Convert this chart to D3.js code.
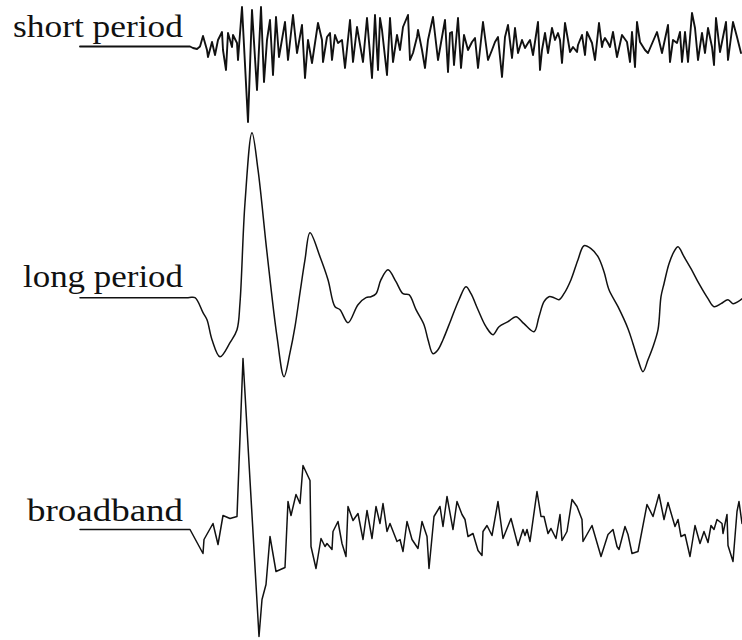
<!DOCTYPE html>
<html>
<head>
<meta charset="utf-8">
<script src="https://cdn.jsdelivr.net/npm/d3@7"></script>
<style>
  html, body { margin: 0; padding: 0; background: #fff; }
  svg { display: block; }
  .label { font-family: "Liberation Serif", "Times New Roman", serif; font-size: 32px; fill: #111; }
  .trace { fill: none; stroke: #111; stroke-linejoin: round; stroke-linecap: round; }
</style>
</head>
<body>
<svg id="chart" width="742" height="640"></svg>
<script>
// Instrument responses to the same earthquake: [time, amplitude]
// The lead-in sample at t = -110 is the quiet pre-event trace under each label.
const shortPeriod = [
  [-110,0],[0,0],[3,-1.5],[7,-2.5],[10,0],[13,10.5],[17,-3.5],[18,-10.5],[22,4.5],[25,-8.5],
  [28,6.5],[32,14.5],[33,-3.5],[36,-23.5],[38,13.5],[42,-0.5],[43,11.5],[47,3.5],[48,-13.5],
  [52,39.5],[58,-75.5],[62,36.5],[67,-43.5],[71,39.5],[74,-35.5],[77,6.5],[80,26.5],[83,-28.5],
  [86,29.5],[89,-10.5],[95,24.5],[98,-13.5],[103,31.5],[107,-6.5],[112,21.5],[115,-31.5],
  [118,6.5],[122,-16.5],[125,3.5],[128,23.5],[132,6.5],[133,-15.5],[137,9.5],[140,13.5],
  [142,-13.5],[145,11.5],[148,3.5],[152,6.5],[155,-21.5],[160,26.5],[163,-15.5],[167,19.5],
  [173,-15.5],[177,28.5],[182,-31.5],[185,31.5],[188,-23.5],[190,28.5],[192,16.5],[197,-28.5],
  [200,28.5],[203,-15.5],[207,11.5],[210,-3.5],[213,19.5],[218,31.5],[220,-13.5],[223,-6.5],
  [227,9.5],[228,16.5],[232,-3.5],[235,-21.5],[238,6.5],[243,29.5],[248,-13.5],[252,9.5],
  [255,26.5],[258,-25.5],[260,13.5],[262,14.5],[264,-18.5],[268,28.5],[271,-21.5],[274,11.5],
  [278,-3.5],[282,4.5],[285,8.5],[288,-21.5],[293,24.5],[298,-13.5],[302,-3.5],[305,4.5],
  [308,9.5],[312,-30.5],[315,9.5],[318,21.5],[322,-11.5],[325,18.5],[328,-6.5],[332,6.5],
  [335,-1.5],[338,3.5],[340,6.5],[343,-8.5],[348,24.5],[350,-23.5],[352,-3.5],[355,13.5],
  [358,-6.5],[362,18.5],[365,6.5],[368,13.5],[370,6.5],[372,-16.5],[375,23.5],[378,6.5],
  [380,-5.5],[383,-0.5],[387,-5.5],[388,1.5],[392,11.5],[395,-8.5],[397,14.5],[402,3.5],
  [405,-13.5],[409,23.5],[412,-0.5],[413,4.5],[415,8.5],[418,3.5],[420,-0.5],[423,14.5],
  [427,-10.5],[432,11.5],[437,4.5],[440,-15.5],[442,14.5],[445,-20.5],[447,24.5],[450,4.5],
  [455,-3.5],[458,-6.5],[467,14.5],[472,-6.5],[478,21.5],[480,-15.5],[483,6.5],[487,3.5],
  [490,14.5],[492,-15.5],[495,14.5],[498,-15.5],[502,33.5],[505,18.5],[508,-13.5],[512,13.5],
  [515,-6.5],[518,18.5],[522,-0.5],[524,-18.5],[526,28.5],[530,-5.5],[536,24.5],[538,-13.5],
  [543,24.5],[547,9.5],[551,-6.5]
];

const longPeriod = [
  [-110,0],[-2,0],[5,0],[13,-15],[17,-22],[22,-42],[30,-59],[40,-45],[47,-32],[50,-5],[55,95],
  [62,165],[68,128],[77,45],[87,-39],[94,-79],[100,-55],[105,-29],[110,5],[115,38],[120,65],
  [130,41],[138,18],[145,-9],[150,-12],[158,-25],[168,-7],[176,0],[181,1],[186,4],[191,18],
  [198,28],[206,16],[213,4],[219,3],[226,-12],[234,-27],[238,-42],[243,-56],[248,-52],
  [253,-42],[261,-22],[269,-2],[276,11],[281,4],[288,-12],[296,-29],[303,-37],[309,-29],
  [318,-24],[326,-19],[334,-26],[344,-34],[349,-19],[354,-4],[359,1],[364,0],[369,-2],
  [374,4],[381,18],[388,38],[394,52],[401,49],[408,41],[414,26],[419,8],[428,-9],[438,-31],
  [443,-46],[448,-62],[453,-74],[458,-62],[463,-49],[468,-32],[471,1],[474,14],[479,34],
  [484,46],[488,51],[494,41],[501,29],[509,14],[518,-1],[524,-9],[531,-6],[538,-2],[543,-6],
  [548,-4],[552,-1]
];

const broadband = [
  [-110,0],[0,0],[13,-24],[14,-10],[23,6],[28,-15],[33,14],[40,11],[47,13],[53,171],
  [69,-107],[72,-70],[76,-55],[80,-7],[86,-42],[95,-38],[98,28],[101,14],[106,35],[110,26],
  [113,64],[120,49],[121,-17],[126,-39],[131,-9],[135,-17],[137,-14],[142,-20],[143,-2],
  [148,8],[152,-14],[156,-27],[158,23],[163,9],[168,16],[173,-10],[177,19],[182,-9],[186,23],
  [190,6],[193,26],[197,-2],[200,6],[207,-12],[210,-10],[213,-22],[217,8],[222,-10],[228,-19],
  [232,8],[237,-7],[239,-39],[244,13],[250,23],[253,3],[257,33],[263,0],[267,28],[272,15],
  [275,10],[278,-7],[283,-4],[288,-21],[292,-26],[293,-2],[297,4],[302,-6],[308,28],[313,-9],
  [321,11],[328,-16],[333,0],[335,-6],[337,0],[340,-12],[347,38],[351,13],[354,13],[358,-4],
  [361,1],[366,-9],[370,15],[372,-11],[377,-2],[382,30],[387,23],[392,10],[393,-12],[402,4],
  [411,-27],[418,-5],[423,0],[427,-17],[429,-20],[435,3],[438,-5],[442,-24],[448,-22],
  [457,25],[463,13],[469,35],[474,10],[478,27],[485,3],[488,10],[491,-7],[495,-5],[500,-27],
  [505,4],[510,-14],[514,-2],[518,-13],[521,4],[524,0],[527,10],[532,6],[533,-4],[537,15],
  [538,-16],[543,-32],[547,18],[549,28],[552,6]
];

const traceNames = ["short period", "long period", "broadband"];
const traceData = [shortPeriod, longPeriod, broadband];

// Layout
const timeDomain = [-110, 552];
const traceBaselines = [46.5, 297.7, 529.5];
const traceWidths = [1.9, 1.5, 1.5];
const labelBoxes = [
  { x: 13, y: 37, w: 170 },
  { x: 23, y: 287, w: 160 },
  { x: 27, y: 521, w: 156 }
];

const svg = d3.select("#chart");
const x = d3.scaleLinear().domain(timeDomain).range([80, 742]);

traceData.forEach((data, i) => {
  const base = traceBaselines[i];
  const y = d3.scaleLinear().domain([-100, 100]).range([base + 100, base - 100]);
  const curve = i === 1 ? d3.curveCatmullRom.alpha(0.5) : d3.curveLinear;
  const line = d3.line()
    .x(d => x(d[0]))
    .y(d => y(d[1]))
    .curve(curve);

  svg.append("path")
    .datum(data)
    .attr("class", "trace")
    .attr("stroke-width", traceWidths[i])
    .attr("d", line);

  const lb = labelBoxes[i];
  svg.append("text")
    .attr("class", "label")
    .attr("x", lb.x)
    .attr("y", lb.y)
    .attr("textLength", lb.w)
    .attr("lengthAdjust", "spacingAndGlyphs")
    .text(traceNames[i]);
});
</script>
</body>
</html>
